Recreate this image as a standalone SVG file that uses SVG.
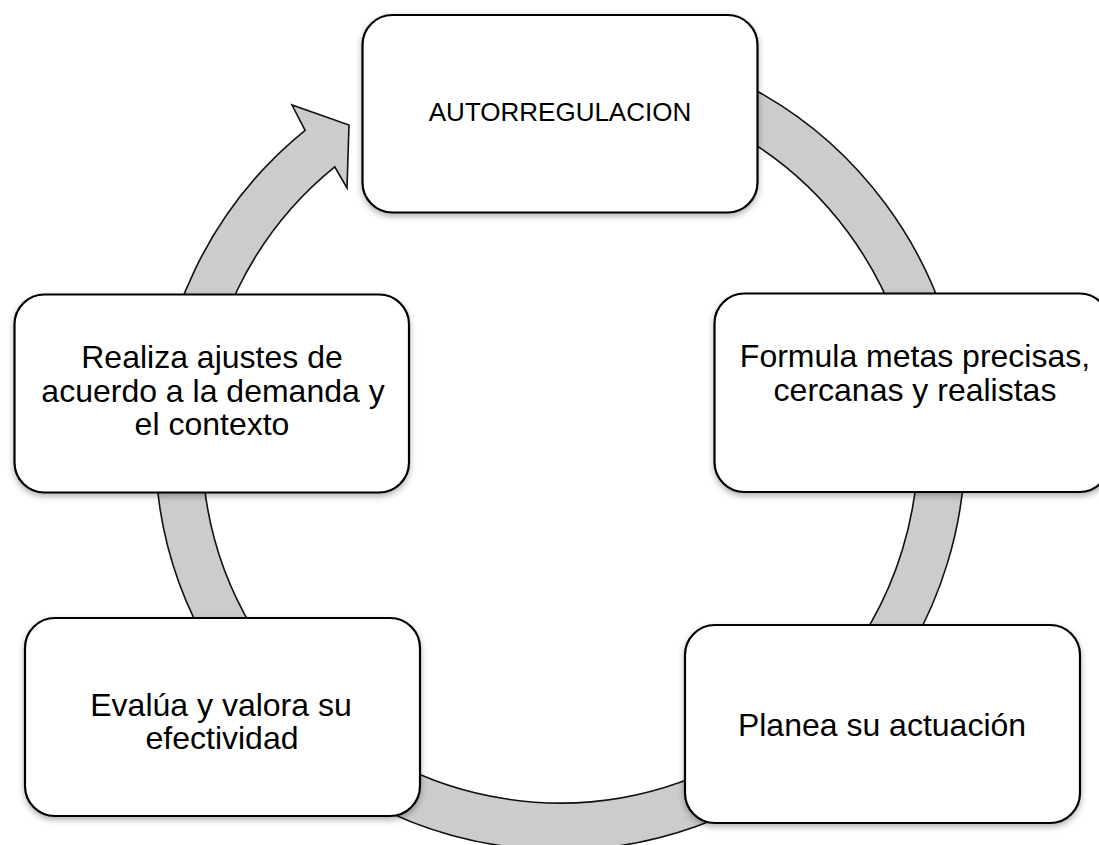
<svg xmlns="http://www.w3.org/2000/svg" width="1099" height="845" viewBox="0 0 1099 845">
  <defs>
    <filter id="sh" x="-10%" y="-10%" width="120%" height="125%">
      <feDropShadow dx="0" dy="3" stdDeviation="3" flood-color="#000" flood-opacity="0.3"/>
    </filter>
  </defs>
  <style>
    .box { fill: #ffffff; stroke: #000000; stroke-width: 2.2; filter: url(#sh); }
    .ring { fill: #cccccc; stroke: #111111; stroke-width: 1.6; stroke-linejoin: miter; }
    .t { font-family: "Liberation Sans", Arial, sans-serif; font-size: 32px; fill: #000000; text-anchor: middle; }
    .t2 { font-family: "Liberation Sans", Arial, sans-serif; font-size: 26px; fill: #000000; text-anchor: middle; }
  </style>
  <rect width="1099" height="845" fill="#ffffff"/>
  <g id="connectors">
    <path class="ring" d="M560,40 A405,405 0 1,1 305.1,130.3 L292,105 L349,125 L347,188 L334.7,166.8 A358,358 0 1,0 560,87 Z"/>
  </g>
  <g id="node-autorregulacion">
    <rect class="box" x="362.5" y="15" width="395" height="197.5" rx="30" ry="30"/>
    <text class="t2" x="560" y="121">AUTORREGULACION</text>
  </g>
  <g id="node-formula">
    <rect class="box" x="714.5" y="293.5" width="395" height="198.5" rx="30" ry="30"/>
    <text class="t" x="915" y="367">Formula metas precisas,</text>
    <text class="t" x="915" y="401">cercanas y realistas</text>
  </g>
  <g id="node-planea">
    <rect class="box" x="685" y="625" width="395" height="198" rx="30" ry="30"/>
    <text class="t" x="882" y="736">Planea su actuación</text>
  </g>
  <g id="node-evalua">
    <rect class="box" x="25" y="618" width="395" height="198" rx="30" ry="30"/>
    <text class="t" x="221" y="716">Evalúa y valora su</text>
    <text class="t" x="222" y="749">efectividad</text>
  </g>
  <g id="node-realiza">
    <rect class="box" x="14.5" y="294.5" width="394.5" height="198" rx="30" ry="30"/>
    <text class="t" x="212" y="368">Realiza ajustes de</text>
    <text class="t" x="213" y="402">acuerdo a la demanda y</text>
    <text class="t" x="212" y="435">el contexto</text>
  </g>
</svg>
